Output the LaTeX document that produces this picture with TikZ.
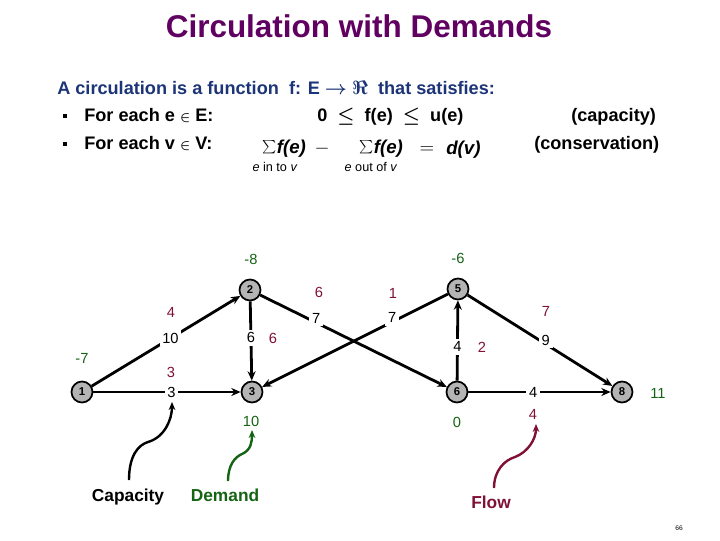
\documentclass[tikz,border=0pt]{standalone}
\usepackage{fontspec}
\setmainfont{Liberation Sans}
\usetikzlibrary{arrows.meta}
\definecolor{titlecol}{RGB}{96,0,96}
\definecolor{bluecol}{RGB}{28,52,120}
\definecolor{flowcol}{RGB}{128,16,56}
\definecolor{demcol}{RGB}{20,100,20}
\definecolor{vertfill}{RGB}{180,180,180}
\newcommand{\smin}{{\fontsize{10}{10}\selectfont$\in$}}
\begin{document}
\begin{tikzpicture}[x=0.75pt,y=-0.75pt,
 vert/.style={circle,draw,line width=1.3pt,fill=vertfill,minimum size=15.75pt,inner sep=0pt,font=\fontsize{8.5}{9}\selectfont\bfseries},
 edge/.style={line width=2.1pt,-{Stealth[length=7pt,width=6pt]}},
 caplab/.style={fill=white,inner sep=2pt,font=\fontsize{11}{12}\selectfont},
 flw/.style={text=flowcol,font=\fontsize{11}{12}\selectfont},
 dem/.style={text=demcol,font=\fontsize{11}{12}\selectfont},
 callout/.style={line width=1.8pt,-{Stealth[length=6pt,width=5pt]}},
 hdr/.style={anchor=base west,inner sep=0pt,font=\fontsize{13.6}{15}\selectfont\bfseries\boldmath},
 frm/.style={anchor=base west,inner sep=0pt,font=\fontsize{14}{16}\selectfont\bfseries\itshape},
 sgm/.style={anchor=base west,inner sep=0pt,font=\fontsize{16}{16}\selectfont},
 opr/.style={anchor=base,inner sep=0pt,font=\fontsize{14}{16}\selectfont},
 sub/.style={anchor=base,inner sep=0pt,font=\fontsize{9.5}{10}\selectfont},
 lbl/.style={anchor=base,font=\fontsize{13}{14}\selectfont\bfseries},
 bul/.style={fill=black,minimum width=2.5pt,minimum height=3pt,inner sep=0pt}]
\useasboundingbox (0,0) rectangle (720,540);

% title and header
\node[anchor=base,text=titlecol,font=\fontsize{23.6}{26}\selectfont\bfseries] (title) at (359,37) {Circulation with Demands};
\node[hdr,text=bluecol] (intro) at (57,94) {A circulation is a function\ \ f: E $\rightarrow$ $\Re$\ \ that satisfies:};
\node[bul] (b1) at (65,116) {};
\node[bul] (b2) at (65,144) {};
\node[hdr] (ln1) at (84,121) {For each e \smin\ E:};
\node[hdr] (ln2) at (84,149) {For each v \smin\ V:};
\node[hdr] (capc) at (317,121) {0\ \ $\le$\ \ f(e)\ \ $\le$\ \ u(e)};
\node[hdr] (capl) at (571,121) {(capacity)};
\node[hdr] (consl) at (534,149) {(conservation)};
% formula
\node[sgm] (sg1) at (262,153) {$\sum$};
\node[frm] (s1) at (sg1.base east) {\textit{f}(e)};
\node[opr] (mn) at (322,153) {$-$};
\node[sgm] (sg2) at (359,153) {$\sum$};
\node[frm] (s2) at (sg2.base east) {\textit{f}(e)};
\node[opr] (eq) at (427,153) {$=$};
\node[frm] (dv) at (446,154) {\textit{d}(\textit{v})};
\node[sub] (sb1) at (275,171) {\textit{e} in to \textit{v}};
\node[sub] (sb2) at (371,171) {\textit{e} out of \textit{v}};

% vertices
\node[vert] (n1) at (82,392) {1};
\node[vert] (n2) at (250,290) {2};
\node[vert] (n3) at (252,392) {3};
\node[vert] (n5) at (458,289) {5};
\node[vert] (n6) at (457,392) {6};
\node[vert] (n8) at (622,392) {8};

% edges with capacities
\draw[edge] (n1) -- node[caplab,pos=0.53] (c12) {10} (n2);
\draw[edge] (n1) -- node[caplab,pos=0.53] (c13) {3} (n3);
\draw[edge] (n2) -- node[caplab,pos=0.46] (c23) {6} (n3);
\draw[edge] (n2) -- node[caplab,pos=0.30,yshift=3pt] (c26) {7} (n6);
\draw[edge] (n5) -- node[caplab,pos=0.30,yshift=3pt] (c53) {7} (n3);
\draw[edge] (n6) -- node[caplab,pos=0.42] (c65) {4} (n5);
\draw[edge] (n5) -- node[caplab,pos=0.54,yshift=3pt] (c58) {9} (n8);
\draw[edge] (n6) -- node[caplab,pos=0.455] (c68) {4} (n8);

% flows
\node[flw] (f12) at (171,312) {4};
\node[flw] (f13) at (171,372) {3};
\node[flw] (f23) at (273,338) {6};
\node[flw] (f26) at (319,292) {6};
\node[flw] (f53) at (393,293) {1};
\node[flw] (f65) at (482,347) {2};
\node[flw] (f58) at (546,311) {7};
\node[flw] (f68) at (533,414) {4};

% demands
\node[dem] (d1) at (82,358) {-7};
\node[dem] (d2) at (251,259) {-8};
\node[dem] (d3) at (251,421) {10};
\node[dem] (d5) at (458,258) {-6};
\node[dem] (d6) at (457,422) {0};
\node[dem] (d8) at (658,393) {11};

% legend labels
\node[lbl] (lcap) at (128,501) {Capacity};
\node[lbl,text=demcol] (ldem) at (225,501) {Demand};
\node[lbl,text=flowcol] (lflow) at (491,508) {Flow};

\coordinate (capS) at (129,480);
\coordinate (capM) at (148,442);
\coordinate (capE) at (172,402);
\coordinate (demS) at (228,481);
\coordinate (demM) at (242,454);
\coordinate (demE) at (252,430);
\coordinate (flwS) at (494,488);
\coordinate (flwM) at (515,457);
\coordinate (flwE) at (536,424);

\draw[callout] (capS) .. controls +(0,-24) and +(-10,3) .. (capM) .. controls +(17,-5) and +(0,17) .. (capE);
\draw[callout,draw=demcol] (demS) .. controls +(0,-16) and +(-7,3) .. (demM) .. controls +(9,-4) and +(0,12) .. (demE);
\draw[callout,draw=flowcol] (flwS) .. controls +(0,-18) and +(-10,3) .. (flwM) .. controls +(13,-5) and +(0,15) .. (flwE);

\node[font=\fontsize{5}{6}\selectfont] (pg) at (679,528) {66};
\end{tikzpicture}
\end{document}
